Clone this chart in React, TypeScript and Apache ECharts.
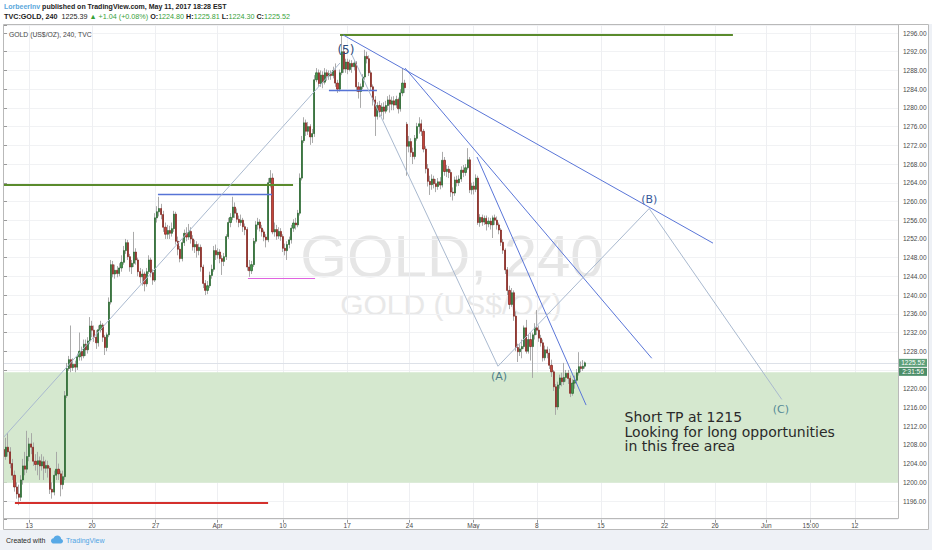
import React, { useEffect, useRef } from 'react';
import * as echarts from 'echarts';

// ---- DATA ----
// 4-hour GOLD candles, [open, close, low, high]; bar number = position in the list
const candles: number[][] = [
  [1207, 1205.5, 1204.5, 1208.5], [1205.5, 1207.5, 1204.8, 1209.5], [1207.5, 1206.5, 1205.5, 1210.5], [1206.5, 1204, 1203, 1207.5],
  [1204, 1201.5, 1200.5, 1205], [1201.5, 1199, 1198, 1202.5], [1199, 1197.5, 1196.5, 1200], [1197.5, 1196.8, 1195.1, 1199.5],
  [1196.8, 1200.5, 1196, 1201.5], [1200.5, 1203.5, 1199.5, 1205], [1203.5, 1202.8, 1201.5, 1206.5], [1202.8, 1205.5, 1202, 1211],
  [1205.5, 1208.2, 1204.5, 1209.5], [1208.2, 1207.5, 1206, 1210.5], [1207.5, 1204.5, 1203.5, 1208.5], [1204.5, 1203.8, 1202.5, 1206],
  [1203.8, 1204.6, 1201.5, 1206.5], [1204.6, 1203.5, 1200.5, 1205.5], [1203.5, 1204.4, 1202.5, 1206], [1204.4, 1203, 1200.5, 1205.5],
  [1203, 1203.6, 1202, 1204.8], [1203.6, 1203, 1201, 1204.6], [1203, 1198.5, 1197.5, 1203.5], [1198.5, 1197.9, 1196.5, 1200],
  [1197.9, 1201.5, 1197.2, 1202.5], [1201.5, 1202.8, 1200.5, 1206.5], [1202.8, 1201.8, 1200.5, 1204], [1201.8, 1199.5, 1197, 1202.5],
  [1199.5, 1201.2, 1198.5, 1202.5], [1201.2, 1218.5, 1200.5, 1219.5], [1218.5, 1224.3, 1218, 1225.5], [1224.3, 1226.2, 1223.8, 1227],
  [1226.2, 1224.5, 1223.5, 1233.5], [1224.5, 1225.2, 1223.8, 1226.5], [1225.2, 1224.6, 1223.5, 1226], [1224.6, 1226.8, 1224, 1227.5],
  [1226.8, 1228, 1226, 1232], [1228, 1227, 1226, 1229], [1227, 1229.5, 1226.5, 1230.5], [1229.5, 1228.3, 1227, 1230.5],
  [1228.3, 1230.2, 1227.5, 1231], [1230.2, 1233.4, 1229.5, 1235.3], [1233.4, 1232.5, 1231, 1234.5], [1232.5, 1231, 1230, 1233.5],
  [1231, 1229.8, 1228.5, 1232.5], [1229.8, 1232.6, 1229, 1233.5], [1232.6, 1233.6, 1232, 1234.5], [1233.6, 1231, 1230, 1234],
  [1231, 1228.8, 1227.2, 1231.5], [1228.8, 1231.5, 1228, 1232], [1231.5, 1238.5, 1231, 1239.5], [1238.5, 1246.5, 1238, 1247.5],
  [1246.5, 1244.5, 1243.8, 1247.3], [1244.5, 1245.3, 1243.5, 1246.5], [1245.3, 1244.6, 1243.8, 1246.2], [1244.6, 1245.8, 1244, 1246.8],
  [1245.8, 1247, 1245, 1248.5], [1247, 1249.5, 1246.5, 1250.5], [1249.5, 1251.2, 1248.8, 1252], [1251.2, 1248.2, 1247.5, 1251.8],
  [1248.2, 1246, 1245, 1248.8], [1246, 1246.8, 1244.5, 1247.5], [1246.8, 1249.2, 1246, 1253.5], [1249.2, 1247.5, 1246.5, 1250],
  [1247.5, 1245, 1244, 1248], [1245, 1243.9, 1242.5, 1245.8], [1243.9, 1244.5, 1242, 1245.5], [1244.5, 1242.4, 1240.8, 1245],
  [1242.4, 1245, 1241.8, 1245.8], [1245, 1247.5, 1244.5, 1248.5], [1247.5, 1244.8, 1243.8, 1248], [1244.8, 1243.2, 1242.2, 1245.5],
  [1243.2, 1256.5, 1242.8, 1257.5], [1256.5, 1257.8, 1255.5, 1259], [1257.8, 1258.5, 1256.8, 1261], [1258.5, 1257.2, 1256.2, 1259.5],
  [1257.2, 1254.5, 1253.5, 1258], [1254.5, 1253, 1252, 1255.5], [1253, 1253.8, 1252, 1255], [1253.8, 1253.2, 1252, 1254.8],
  [1253.2, 1254.2, 1252.5, 1255.5], [1254.2, 1257.3, 1253.5, 1258], [1257.3, 1251.5, 1250.8, 1257.8], [1251.5, 1249.8, 1248.5, 1252.5],
  [1249.8, 1247.8, 1247, 1250.5], [1247.8, 1251.2, 1247.2, 1252], [1251.2, 1253.2, 1250.5, 1254], [1253.2, 1252.4, 1251.5, 1254.5],
  [1252.4, 1253.6, 1251.8, 1255.2], [1253.6, 1252, 1251, 1254.5], [1252, 1250.3, 1249.5, 1252.8], [1250.3, 1250.8, 1249, 1251.8],
  [1250.8, 1249.5, 1248, 1251.5], [1249.5, 1250.2, 1248.5, 1251], [1250.2, 1246, 1245, 1250.8], [1246, 1242.5, 1241.5, 1246.5],
  [1242.5, 1241, 1240, 1243.2], [1241, 1242, 1240.2, 1243], [1242, 1244.2, 1241.5, 1245], [1244.2, 1245.5, 1243.5, 1246.5],
  [1245.5, 1249.5, 1245, 1250.5], [1249.5, 1248.6, 1247.5, 1250.8], [1248.6, 1249.2, 1247.8, 1250], [1249.2, 1247.8, 1246.8, 1249.8],
  [1247.8, 1247.2, 1244.3, 1248.5], [1247.2, 1248.2, 1246.2, 1249], [1248.2, 1252.5, 1247.5, 1253], [1252.5, 1255.5, 1252, 1256.5],
  [1255.5, 1256.6, 1254.5, 1257.5], [1256.6, 1258.8, 1256, 1261], [1258.8, 1257.5, 1256.5, 1259.8], [1257.5, 1256.2, 1255.5, 1258.5],
  [1256.2, 1255.5, 1254.5, 1257], [1255.5, 1256, 1254.8, 1257.2], [1256, 1254.6, 1253.5, 1256.5], [1254.6, 1254, 1252.8, 1255.3],
  [1254, 1246, 1245.2, 1254.5], [1246, 1245.2, 1243.9, 1247.5], [1245.2, 1246.5, 1244.5, 1247.3], [1246.5, 1251.5, 1246, 1252.2],
  [1251.5, 1255, 1251, 1255.8], [1255, 1255.6, 1254, 1256.5], [1255.6, 1254.3, 1253.6, 1256.2], [1254.3, 1253.5, 1252.5, 1255],
  [1253.5, 1252.4, 1251.5, 1254], [1252.4, 1251.8, 1250.2, 1253], [1251.8, 1264, 1251.3, 1265], [1264, 1265, 1263, 1266.7],
  [1265, 1253.5, 1253, 1266], [1253.5, 1254, 1252.5, 1255.5], [1254, 1252.6, 1251.8, 1255], [1252.6, 1253.6, 1252, 1254.5],
  [1253.6, 1252.5, 1251.6, 1254.3], [1252.5, 1250, 1249.2, 1253], [1250, 1249.5, 1248.5, 1251], [1249.5, 1250.8, 1247.5, 1251.5],
  [1250.8, 1251.8, 1250, 1252.5], [1251.8, 1254.3, 1251, 1255], [1254.3, 1255.4, 1253.5, 1256.2], [1255.4, 1255, 1254, 1256.5],
  [1255, 1257.5, 1254.5, 1258.2], [1257.5, 1265, 1257, 1266], [1265, 1273, 1264.5, 1274], [1273, 1276.8, 1272.5, 1278],
  [1276.8, 1275, 1274, 1277.5], [1275, 1276, 1274.2, 1277], [1276, 1273.8, 1272.1, 1276.5], [1273.8, 1274.5, 1272.5, 1275.5],
  [1274.5, 1286, 1273.8, 1287], [1286, 1287.5, 1285.5, 1288.5], [1287.5, 1285.2, 1284.5, 1288.2], [1285.2, 1287, 1284.5, 1288],
  [1287, 1285.5, 1284.2, 1287.8], [1285.5, 1287.5, 1285, 1288.5], [1287.5, 1286.8, 1285.8, 1288.2], [1286.8, 1287.3, 1286, 1288],
  [1287.3, 1286.9, 1286, 1288], [1286.9, 1288, 1286.3, 1288.8], [1288, 1285.3, 1284.5, 1289.5], [1285.3, 1284, 1283.2, 1286],
  [1284, 1287.5, 1283.5, 1288.2], [1287.5, 1292, 1287, 1295.6], [1292, 1288.3, 1287.5, 1293], [1288.3, 1289.8, 1287.5, 1290.5],
  [1289.8, 1288.2, 1287.2, 1290.5], [1288.2, 1289.5, 1287.8, 1290.3], [1289.5, 1288.8, 1287.5, 1290.2], [1288.8, 1289.6, 1288, 1290.2],
  [1289.6, 1284.5, 1283.5, 1290], [1284.5, 1283.5, 1282, 1285.5], [1283.5, 1284.5, 1280, 1285.2], [1284.5, 1286.6, 1284, 1287.2],
  [1286.6, 1291, 1286, 1292.4], [1291, 1290.5, 1289.5, 1292], [1290.5, 1287.5, 1286.8, 1291.2], [1287.5, 1284.5, 1283.8, 1288],
  [1284.5, 1281.7, 1280.5, 1285], [1281.7, 1278.2, 1274, 1282.5], [1278.2, 1280.5, 1277.5, 1281.2], [1280.5, 1279.2, 1278, 1281.5],
  [1279.2, 1280.2, 1278.2, 1281], [1280.2, 1279.3, 1277.5, 1281.2], [1279.3, 1280.5, 1278.8, 1281.5], [1280.5, 1281.7, 1279.5, 1282.5],
  [1281.7, 1280.8, 1279, 1282.8], [1280.8, 1281.5, 1279.5, 1282.4], [1281.5, 1280.6, 1279.5, 1282.5], [1280.6, 1281.8, 1280, 1282.6],
  [1281.8, 1279.8, 1278.8, 1282.2], [1279.8, 1283.2, 1279.2, 1284], [1283.2, 1285.3, 1282.5, 1288.5], [1285.3, 1284.3, 1283.2, 1286],
  [1276.5, 1271.8, 1265.5, 1277], [1271.8, 1272.8, 1270.5, 1274], [1272.8, 1270.5, 1269.5, 1273.5], [1270.5, 1269.6, 1268, 1271.5],
  [1269.6, 1273.5, 1269, 1274.2], [1273.5, 1276, 1273, 1276.8], [1276, 1276.6, 1274.5, 1278], [1276.6, 1275, 1274, 1277.5],
  [1275, 1271.2, 1270.5, 1275.5], [1271.2, 1267, 1266, 1271.8], [1267, 1264.3, 1263.2, 1268], [1264.3, 1263.6, 1261.4, 1265.5],
  [1263.6, 1264.8, 1262.5, 1265.8], [1264.8, 1263.8, 1262.8, 1265.5], [1263.8, 1263.2, 1262, 1264.8], [1263.2, 1264.2, 1262.5, 1265],
  [1264.2, 1263.5, 1262.6, 1265.2], [1263.5, 1268.8, 1263, 1270.6], [1268.8, 1266.4, 1265.5, 1269.5], [1266.4, 1266.9, 1265.2, 1267.8],
  [1266.9, 1266.2, 1265, 1267.6], [1266.2, 1262, 1261, 1266.8], [1262, 1261.8, 1260.2, 1263], [1261.8, 1264.6, 1261.2, 1265.3],
  [1264.6, 1264, 1263.2, 1265.5], [1264, 1264.8, 1263.3, 1265.6], [1264.8, 1266.7, 1264.2, 1267.5], [1266.7, 1266.2, 1265.2, 1267.8],
  [1266.2, 1267.2, 1265.5, 1268], [1267.2, 1268.9, 1266.8, 1271.4], [1268.9, 1262.5, 1261.8, 1269.5], [1262.5, 1263.3, 1261.5, 1264],
  [1263.3, 1262.6, 1261.5, 1264.2], [1262.6, 1265, 1262, 1265.8], [1265, 1255.5, 1255, 1265.5], [1255.5, 1256.6, 1254.6, 1257.3],
  [1256.6, 1255.6, 1254.8, 1257.2], [1255.6, 1256.4, 1255, 1257], [1256.4, 1255.2, 1253.8, 1257], [1255.2, 1255.8, 1254.5, 1256.6],
  [1255.8, 1255, 1254, 1256.5], [1255, 1256.5, 1252.2, 1257], [1256.5, 1256, 1255, 1257.2], [1256, 1255, 1254, 1256.8],
  [1255, 1253.9, 1253, 1255.5], [1253.9, 1251.3, 1250.5, 1254.3], [1251.3, 1249.6, 1248.8, 1252], [1249.6, 1245.4, 1244.5, 1250],
  [1245.4, 1241, 1240, 1246], [1241, 1238, 1237, 1242], [1238, 1240.5, 1237.5, 1241.5], [1240.5, 1235.5, 1234.5, 1241],
  [1235.5, 1228.8, 1228, 1236.5], [1228.8, 1227.9, 1225.7, 1229.6], [1227.9, 1228.5, 1227, 1229.5], [1228.5, 1229, 1226.5, 1230.5],
  [1229, 1233, 1228.5, 1233.5], [1233, 1228, 1227.5, 1234.7], [1228, 1230.5, 1227.5, 1231.5], [1230.5, 1229, 1226, 1232],
  [1229, 1231.5, 1222.3, 1232], [1231.5, 1233, 1230.5, 1234], [1233, 1232.5, 1231.5, 1236.8], [1232.5, 1230.8, 1230, 1233.5],
  [1230.8, 1229.8, 1229, 1231.5], [1229.8, 1226.6, 1225.8, 1230.5], [1226.6, 1228.3, 1226, 1229.2], [1228.3, 1227.6, 1226.5, 1229],
  [1227.6, 1225, 1224.2, 1228.5], [1225, 1223.6, 1222.5, 1226.2], [1223.6, 1220.4, 1219.5, 1224], [1220.4, 1216.1, 1214.4, 1221],
  [1216.1, 1220.8, 1215.5, 1221.5], [1220.8, 1222.3, 1220, 1223], [1222.3, 1221.5, 1220.5, 1223.4], [1221.5, 1222.4, 1220.8, 1225.5],
  [1222.4, 1223.3, 1221.5, 1224], [1223.3, 1222.2, 1221, 1224], [1222.2, 1219, 1218.2, 1222.8], [1219, 1221.2, 1218.5, 1222],
  [1221.2, 1221.8, 1220, 1222.8], [1221.8, 1223.4, 1221, 1224.2], [1223.4, 1224.7, 1222.8, 1227.8], [1224.7, 1224.3, 1223.5, 1225.8],
  [1224.3, 1224.8, 1223.8, 1226.1], [1224.8, 1225.52, 1224.3, 1225.81],
];

// time axis: bar positions of the date labels, and their texts
const timeTickBars = [12.0, 42.0, 72.3, 101.8, 133.0, 163.6, 193.3, 223.8, 254.0, 284.6, 314.9, 339.0, 363.4, 384.6, 405.6];
const timeTickLabels = ['13', '20', '27', 'Apr', '10', '17', '24', 'May', '8', '15', '22', '26', 'Jun', '15:00', '12'];
const barsShown = 426.2;

// price axis
const priceMin = 1192;
const priceMax = 1297.71;
const priceStep = 4;
const firstPriceLabel = 1196;

// last price and countdown
const lastPrice = 1225.52;
const countdown = '2:31:56';

// header texts
const author = 'LorbeerInv';
const publishedText = 'published on TradingView.com, May 11, 2017 18:28 EST';
const symbolText = 'TVC:GOLD, 240';
const lastTrade = '1225.39';
const changeText = '▲ +1.04 (+0.08%)';
const ohlcKeys = ['O:', 'H:', 'L:', 'C:'];
const ohlcValues = ['1224.80', '1225.81', '1224.30', '1225.52'];
const paneTitle = 'GOLD (US$/OZ), 240, TVC';
const watermark = 'GOLD, 240';
const watermarkSub = 'GOLD (US$/OZ)';

// drawings in chart coordinates: [fromBar, toBar, price]
const greenLevels = [[0, 137.8, 1263.5], [160.2, 347.5, 1295.6]];
const blueLevels = [[73.4, 127.8, 1261.5], [154.9, 177.8, 1283.8]];
const pinkLevels = [[116.3, 148.3, 1243.6]];
const redLevels = [[5.2, 125.9, 1195.6]];
// [bar1, price1, bar2, price2]
const trendLines = [[161.6, 1295.6, 338, 1251.1], [191.2, 1288.5, 308.8, 1226.5], [225.5, 1269.5, 277.5, 1216.5]];
const waveLines = [[0, 1209.7, 160.2, 1289.6], [165.9, 1291.3, 235.5, 1224.8], [235.5, 1224.8, 307.6, 1258.5], [307.6, 1258.5, 370.8, 1217.7]];
// [label, bar, price]
const waveLabels: [string, number, number][] = [['(5)', 163, 1292.4], ['(A)', 236, 1222.7], ['(B)', 307.6, 1260.5], ['(C)', 370.4, 1215.6]];
const zoneTop = 1223.5;
const zoneBottom = 1199.9;
const noteLines = ['Short TP at 1215', 'Looking for long opportunities', 'in this free area'];
const notePoint = [295.6, 1210.85];

// ---- STYLES ----
const W = 932, H = 550;
const plotLeft = 4, plotRight = 898, plotTop = 25, plotBottom = 518;
const upFill = '#4a984d', upBorder = '#22602a', downFill = '#c4443a', downBorder = '#7d1f1a', wickColor = '#a2a2a2';
const waveColors: Record<string, string> = { '(5)': '#2c4a7c', '(A)': '#4d7e89', '(B)': '#36589a', '(C)': '#558a97' };
const axisFont = 'Liberation Sans';

const logoPath = 'M3 8 C1.3 8 0 6.8 0 5.4 C0 4 1.1 2.9 2.5 2.8 C3 1.2 4.5 0 6.3 0 C8.4 0 10 1.5 10.2 3.5 C11.3 3.7 12 4.6 12 5.8 C12 7 11 8 9.8 8 Z';
echarts.graphic.registerShape('tvlogo', echarts.graphic.extendPath(logoPath, {}) as any);

function segLine(x1: number, p1: number, x2: number, p2: number, color: string, width: number) {
  return [
    { coord: [x1, p1], lineStyle: { color, width, type: 'solid' } },
    { coord: [x2, p2] },
  ];
}

function buildOption() {
  const wickData = candles.map((c, i) => [i, c[0], c[1], c[2], c[3]]);
  const bodyData = candles.map((c, i) => [i, c[0], c[1], Math.min(c[0], c[1]), Math.max(c[0], c[1])]);

  const drawings: any[] = [];
  greenLevels.forEach((l) => drawings.push(segLine(l[0], l[2], l[1], l[2], '#5a8b2c', 2)));
  blueLevels.forEach((l) => drawings.push(segLine(l[0], l[2], l[1], l[2], '#5774d6', 1.4)));
  pinkLevels.forEach((l) => drawings.push(segLine(l[0], l[2], l[1], l[2], '#e064e0', 1)));
  redLevels.forEach((l) => drawings.push(segLine(l[0], l[2], l[1], l[2], '#d4302c', 2)));
  trendLines.forEach((t) => drawings.push(segLine(t[0], t[1], t[2], t[3], '#5a76d8', 1)));
  waveLines.forEach((t) => drawings.push(segLine(t[0], t[1], t[2], t[3], '#a9b9cf', 1)));

  const header1 = `{u|${author}} {t|${publishedText}}`;
  const header2 = `{k|${symbolText}}  {v|${lastTrade}} {g|${changeText}} ` +
    ohlcKeys.map((k, i) => `{k|${k}}{g|${ohlcValues[i]}}`).join(' ');

  return {
    animation: false,
    backgroundColor: '#ffffff',
    grid: { left: plotLeft, right: W - plotRight, top: plotTop, bottom: H - (plotTop + (priceMax - priceMin) * 4.68), containLabel: false },
    xAxis: {
      type: 'value', min: 0, max: barsShown,
      axisLine: { show: false },
      axisTick: { show: true, customValues: timeTickBars, length: 3, lineStyle: { color: '#9a9a9a' } },
      axisLabel: {
        show: true, customValues: timeTickBars, margin: 2, fontSize: 6.5, color: '#4a4a4a', fontFamily: axisFont,
        formatter: (v: number) => {
          const j = timeTickBars.findIndex((t) => Math.abs(t - v) < 1e-6);
          return j >= 0 ? timeTickLabels[j] : '';
        },
      },
      splitLine: { show: false },
    },
    yAxis: {
      type: 'value', position: 'right', min: priceMin, max: priceMax, interval: priceStep, scale: true,
      axisLine: { show: false },
      axisTick: { show: true, length: 3, lineStyle: { color: '#9a9a9a' } },
      axisLabel: {
        margin: 5, fontSize: 6.5, color: '#4a4a4a', fontFamily: axisFont,
        formatter: (v: number) => {
          if (v < firstPriceLabel || Math.abs(v % priceStep) > 1e-6) return '';
          if (v > lastPrice - 3.5 && v < lastPrice + 2) return ''; // covered by the last-price tag
          return v.toFixed(2);
        },
      },
      splitLine: { show: true, lineStyle: { color: '#f1f2f4', width: 1 } },
    },
    graphic: [
      { type: 'rect', z: -5, silent: true, shape: { x: 0, y: 530, width: W, height: 20 }, style: { fill: '#eef1f6' } },
      { type: 'rect', z: -5, silent: true, shape: { x: 929, y: 24, width: 3, height: 506 }, style: { fill: '#eef1f6' } },
      {
        type: 'text', z: -1, silent: true, x: 452, y: 256,
        style: { text: watermark, fontSize: 60, lineHeight: 46, fontFamily: 'Liberation Sans', fill: '#e6e6e6', align: 'center', verticalAlign: 'middle' },
      },
      {
        type: 'text', z: -1, silent: true, x: 451, y: 304,
        style: { text: watermarkSub, fontSize: 30, lineHeight: 24, fontFamily: 'Liberation Sans', fill: '#e8e8e8', align: 'center', verticalAlign: 'middle' },
      },
      {
        type: 'text', z: 20, silent: true, x: 4, y: 6.4,
        style: {
          text: header1, fontSize: 7, fontFamily: axisFont, verticalAlign: 'middle',
          rich: {
            u: { fill: '#5aa8dc', fontSize: 7, fontFamily: axisFont, fontWeight: 'bold' },
            t: { fill: '#222222', fontSize: 7, fontFamily: axisFont, fontWeight: 'bold' },
          },
        },
      },
      {
        type: 'text', z: 20, silent: true, x: 4, y: 16.4,
        style: {
          text: header2, fontSize: 7.2, fontFamily: axisFont, verticalAlign: 'middle',
          rich: {
            k: { fill: '#1c1c1c', fontSize: 7.2, fontFamily: axisFont, fontWeight: 'bold' },
            v: { fill: '#1c1c1c', fontSize: 7.2, fontFamily: axisFont },
            g: { fill: '#37a13a', fontSize: 7.2, fontFamily: axisFont },
          },
        },
      },
      {
        type: 'text', z: 20, silent: true, x: 9, y: 34.4,
        style: { text: paneTitle, fontSize: 6.8, fontFamily: axisFont, fill: '#464646', verticalAlign: 'middle' },
      },
      { type: 'rect', z: 30, silent: true, shape: { x: plotLeft - 0.5, y: plotTop - 0.5, width: 925, height: 505 }, style: { fill: 'none', stroke: '#b9b9b9', lineWidth: 1 } },
      { type: 'line', z: 30, silent: true, shape: { x1: plotRight + 0.5, y1: plotTop - 0.5, x2: plotRight + 0.5, y2: plotBottom + 0.5 }, style: { stroke: '#b9b9b9', lineWidth: 1 } },
      { type: 'line', z: 30, silent: true, shape: { x1: plotLeft - 0.5, y1: plotBottom + 0.5, x2: plotRight + 0.5, y2: plotBottom + 0.5 }, style: { stroke: '#b9b9b9', lineWidth: 1 } },
      {
        type: 'text', z: 20, silent: true, x: 6, y: 540,
        style: { text: 'Created with', fontSize: 7, fontFamily: axisFont, fill: '#2a2a2a', verticalAlign: 'middle' },
      },
      { type: 'tvlogo', z: 20, silent: true, x: 51, y: 535.5, scaleX: 1, scaleY: 1, style: { fill: '#58a9e6' } },
      {
        type: 'text', z: 20, silent: true, x: 66, y: 540,
        style: { text: 'TradingView', fontSize: 7, fontFamily: axisFont, fill: '#4ea4e4', verticalAlign: 'middle' },
      },
    ],
    series: [
      {
        type: 'line', data: [], z: 0, silent: true,
        markLine: {
          silent: true, z: 0, symbol: ['none', 'none'], animation: false,
          label: { show: false },
          data: [
            ...timeTickBars.map((b) => ({ xAxis: b, lineStyle: { color: '#eeeff2', width: 1, type: 'solid' } })),
            {
              yAxis: lastPrice,
              lineStyle: { color: '#dde1e8', width: 1, type: 'solid' },
              label: {
                show: true, position: 'end', distance: 1, offset: [0, 4.5],
                formatter: `{a|${lastPrice.toFixed(2)}}\n{b|${countdown}}`,
                rich: {
                  a: { color: '#ffffff', backgroundColor: '#5d9f79', fontSize: 6.5, fontFamily: axisFont, width: 28, height: 8, lineHeight: 9, align: 'center' },
                  b: { color: '#ffffff', backgroundColor: '#4c8e69', fontSize: 6.5, fontFamily: axisFont, width: 28, height: 8, lineHeight: 9, align: 'center' },
                },
              },
            },
          ],
        },
      },
      {
        name: 'wicks', type: 'candlestick', z: 2, barWidth: 0.01,
        encode: { x: 0, y: [1, 2, 3, 4] },
        data: wickData,
        itemStyle: { color: wickColor, color0: wickColor, borderColor: wickColor, borderColor0: wickColor, borderWidth: 0.9 },
        markArea: {
          silent: true, z: 1,
          itemStyle: { color: '#d5e8cf', opacity: 1 },
          label: { show: false },
          data: [[{ coord: [0, zoneTop] }, { coord: [barsShown, zoneBottom] }]],
        },
      },
      {
        name: 'bodies', type: 'candlestick', z: 3, barWidth: 1.6,
        encode: { x: 0, y: [1, 2, 3, 4] },
        data: bodyData,
        itemStyle: { color: upFill, color0: downFill, borderColor: upBorder, borderColor0: downBorder, borderWidth: 0.7 },
      },
      {
        type: 'line', data: [], z: 5, silent: true,
        markLine: {
          silent: true, z: 5, symbol: ['none', 'none'], animation: false,
          label: { show: false },
          data: drawings,
        },
        markPoint: {
          silent: true, z: 6, symbol: 'circle', symbolSize: 1, animation: false,
          itemStyle: { color: 'rgba(0,0,0,0)' },
          data: [
            ...waveLabels.map(([t, b, p]) => ({
              name: t, coord: [b, p],
              label: { show: true, position: 'inside', formatter: t, fontSize: t === '(5)' ? 12 : 11, color: waveColors[t], fontFamily: 'DejaVu Sans' },
            })),
            {
              name: 'note', coord: notePoint,
              label: {
                show: true, position: 'right', distance: 0, formatter: noteLines.join('\n'),
                fontSize: 14, lineHeight: 14.5, color: '#2a2a2a', fontFamily: 'DejaVu Sans', align: 'left',
              },
            },
          ],
        },
      },
    ],
  };
}

export default function App() {
  const ref = useRef<HTMLDivElement>(null);
  useEffect(() => {
    if (!ref.current) return;
    const chart = echarts.init(ref.current, null, { renderer: 'svg' });
    chart.setOption(buildOption() as any);
    return () => chart.dispose();
  }, []);
  return <div ref={ref} style={{ position: 'fixed', left: 0, top: 0, width: W, height: H, background: '#ffffff' }} />;
}
